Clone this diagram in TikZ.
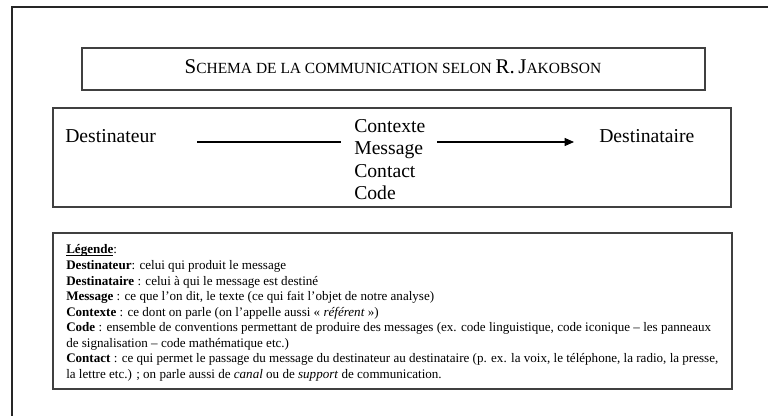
\documentclass[tikz,border=0pt]{standalone}
\usepackage{fontspec}
\setmainfont{Liberation Serif}
\usetikzlibrary{arrows.meta}
\tikzset{
  frame/.style={draw=black!85, line width=1.5pt},
  box/.style={draw=black!75, line width=0.9pt},
  big/.style={font=\fontsize{14.75pt}{16.8pt}\selectfont, inner sep=0pt},
  legline/.style={font=\fontsize{9.8pt}{11.6pt}\selectfont, inner sep=0pt, anchor=base west},
  conn/.style={draw=black, line width=0.8pt},
  arr/.style={conn, -{Triangle[length=7pt,width=6pt]}}
}
\newcommand{\bigL}[1]{{\fontsize{15.7pt}{16pt}\selectfont #1}}
\newcommand{\smL}[1]{{\fontsize{11.6pt}{16pt}\selectfont #1}}
\newcommand{\ulword}[1]{{\setbox0\hbox{#1}\rlap{\rule[-1.4pt]{\wd0}{0.5pt}}\box0}}
\begin{document}
\begin{tikzpicture}[x=0.75pt,y=-0.75pt]
\useasboundingbox (0,0) rectangle (768,416);
\clip (0,0) rectangle (768,416);
% outer frame
\draw[frame] (790,7) -- (12,7) -- (12,440);
% title
\draw[box] (82,48) rectangle (705,90);
\node[inner sep=0pt, anchor=base] (title) at (393,74) {\bigL{S}\smL{CHEMA DE LA COMMUNICATION SELON }\bigL{R.\,J}\smL{AKOBSON}};
% main box
\draw[box] (53,108) rectangle (731,207);
\node[big, anchor=base west] (dest) at (65,143) {Destinateur};
\node[big, anchor=base west] (ctx) at (354,133) {Contexte};
\node[big, anchor=base west] (msg) at (354,155) {Message};
\node[big, anchor=base west] (cont) at (354,178) {Contact};
\node[big, anchor=base west] (code) at (354,200) {Code};
\node[big, anchor=base west] (dstn) at (599,143) {Destinataire};
\coordinate (a1) at (197,142);
\coordinate (a2) at (341,142);
\coordinate (b1) at (437,142);
\coordinate (b2) at (574,142);
\draw[conn] (a1) -- (a2);
\draw[arr] (b1) -- (b2);
% legend
\draw[box] (53,233) rectangle (732,389);
\node[legline] (l1) at (66,254) {\ulword{\textbf{Légende}}:};
\node[legline] (l2) at (66,270) {\textbf{Destinateur}: celui qui produit le message};
\node[legline] (l3) at (66,285.5) {\textbf{Destinataire} : celui à qui le message est destiné};
\node[legline] (l4) at (66,301) {\textbf{Message} : ce que l’on dit, le texte (ce qui fait l’objet de notre analyse)};
\node[legline] (l5) at (66,316.5) {\textbf{Contexte} : ce dont on parle (on l’appelle aussi « \textit{référent} »)};
\node[legline] (l6) at (66,332) {\textbf{Code} : ensemble de conventions permettant de produire des messages (ex. code linguistique, code iconique – les panneaux};
\node[legline] (l7) at (66,347.5) {de signalisation – code mathématique etc.)};
\node[legline] (l8) at (66,363) {\textbf{Contact} : ce qui permet le passage du message du destinateur au destinataire (p. ex. la voix, le téléphone, la radio, la presse,};
\node[legline] (l9) at (66,378.5) {la lettre etc.) ; on parle aussi de \textit{canal} ou de \textit{support} de communication.};
\end{tikzpicture}
\end{document}
